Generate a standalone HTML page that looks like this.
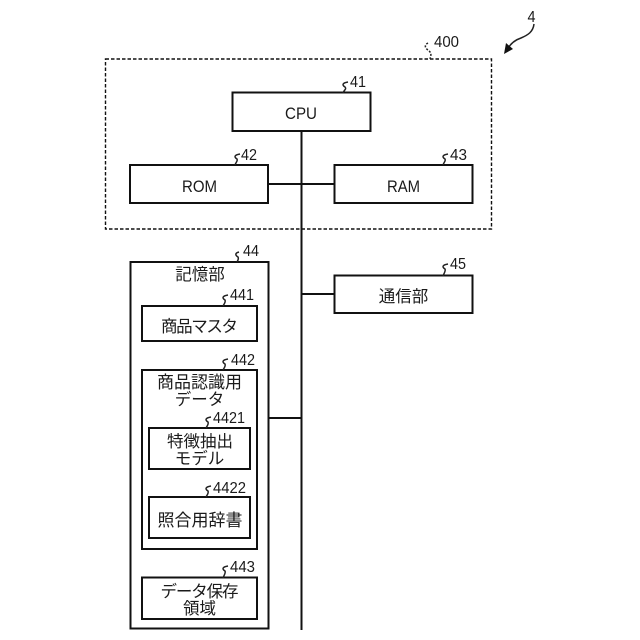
<!DOCTYPE html>
<html lang="ja">
<head>
<meta charset="utf-8">
<style>
html,body{margin:0;padding:0;background:#fff;width:640px;height:640px;overflow:hidden}
svg{display:block}
text{font-family:"Liberation Sans","Noto Sans CJK JP",sans-serif;font-size:16.5px;fill:#1a1a1a}
.c{text-anchor:middle}
.n{font-size:15.5px}
.w{font-size:17px}
rect{fill:#fff;stroke:#111;stroke-width:2}
.l{stroke:#111;stroke-width:2;fill:none}
.s{stroke:#222;stroke-width:1.5;fill:none}
</style>
</head>
<body>
<svg width="640" height="640" viewBox="0 0 640 640" xmlns="http://www.w3.org/2000/svg">
<rect x="105.5" y="59" width="386" height="170" style="stroke-width:1.4;stroke-dasharray:3.5 2"/>
<path class="l" d="M301.5 131V630M268 184H334M301.5 294H334M268 418H301.5"/>
<rect x="232.5" y="92.5" width="138" height="38.5"/>
<rect x="130" y="165" width="138" height="38"/>
<rect x="334.5" y="165" width="138" height="38"/>
<rect x="334.5" y="275.5" width="138" height="37.5"/>
<rect x="130.5" y="262" width="138" height="366.5"/>
<rect x="142" y="306" width="115" height="35"/>
<rect x="142" y="370" width="115" height="179"/>
<rect x="149" y="428" width="101" height="41"/>
<rect x="149" y="497" width="101" height="41"/>
<rect x="142" y="577.5" width="115" height="41.5"/>

<text x="285" y="119" textLength="32" lengthAdjust="spacingAndGlyphs">CPU</text>
<text x="182" y="192" textLength="35" lengthAdjust="spacingAndGlyphs">ROM</text>
<text x="387" y="192" textLength="33" lengthAdjust="spacingAndGlyphs">RAM</text>
<text class="c" x="403.5" y="302">通信部</text>
<text class="c" x="200" y="280">記憶部</text>
<text x="161" y="332" textLength="77">商品マスタ</text>
<text class="c w" x="199.5" y="388">商品認識用</text>
<text class="c" x="199.5" y="405">データ</text>
<text class="c" x="200" y="447">特徴抽出</text>
<text class="c" x="199.5" y="464">モデル</text>
<text class="c w" x="200" y="526">照合用辞書</text>
<text x="160.5" y="597" textLength="78">データ保存</text>
<text class="c" x="199.5" y="614">領域</text>

<text class="n" x="527.5" y="22" textLength="8" lengthAdjust="spacingAndGlyphs">4</text>
<text class="n" x="434" y="47" textLength="25" lengthAdjust="spacingAndGlyphs">400</text>
<text class="n" x="350" y="87" textLength="16" lengthAdjust="spacingAndGlyphs">41</text>
<text class="n" x="241" y="160" textLength="16" lengthAdjust="spacingAndGlyphs">42</text>
<text class="n" x="450" y="160" textLength="17" lengthAdjust="spacingAndGlyphs">43</text>
<text class="n" x="243" y="256" textLength="16" lengthAdjust="spacingAndGlyphs">44</text>
<text class="n" x="450" y="269" textLength="16" lengthAdjust="spacingAndGlyphs">45</text>
<text class="n" x="230" y="300" textLength="24" lengthAdjust="spacingAndGlyphs">441</text>
<text class="n" x="231" y="365" textLength="24" lengthAdjust="spacingAndGlyphs">442</text>
<text class="n" x="213" y="423" textLength="32" lengthAdjust="spacingAndGlyphs">4421</text>
<text class="n" x="213" y="493" textLength="33" lengthAdjust="spacingAndGlyphs">4422</text>
<text class="n" x="230" y="572" textLength="25" lengthAdjust="spacingAndGlyphs">443</text>

<path class="s" style="stroke-dasharray:2 1.5" d="M428 43C424 45 425 48 428 50C432 53 431 55 430 59"/>
<path class="s" d="M348 82C342 83 342 85 345 87C347 89 344 90 343 93"/>
<path class="s" d="M240 154C234 155 234 157 237 159C238 161 236 162 235 165"/>
<path class="s" d="M448 154C442 155 442 157 445 159C446 161 444 162 443 165"/>
<path class="s" d="M239 252C235 253 235 255 238 257C239 259 238 260 237 262"/>
<path class="s" d="M448 264C442 265 442 267 445 269C446 271 444 273 443 276"/>
<path class="s" d="M228 295C222 296 222 298 225 300C226 302 224 304 223 306"/>
<path class="s" d="M228 359C222 360 222 362 225 364C226 366 224 368 223 370"/>
<path class="s" d="M211 417C205 418 205 420 208 422C209 424 207 426 206 428"/>
<path class="s" d="M211 486C205 487 205 489 208 491C209 493 207 495 206 497"/>
<path class="s" d="M228 566C222 567 222 569 225 571C226 573 224 575 223 578"/>

<path class="s" d="M534 24C533 32 528 35 521 38C515 40 510 44 507 50"/>
<path d="M504 54L506 43L513 49Z" fill="#111"/>
</svg>
</body>
</html>
